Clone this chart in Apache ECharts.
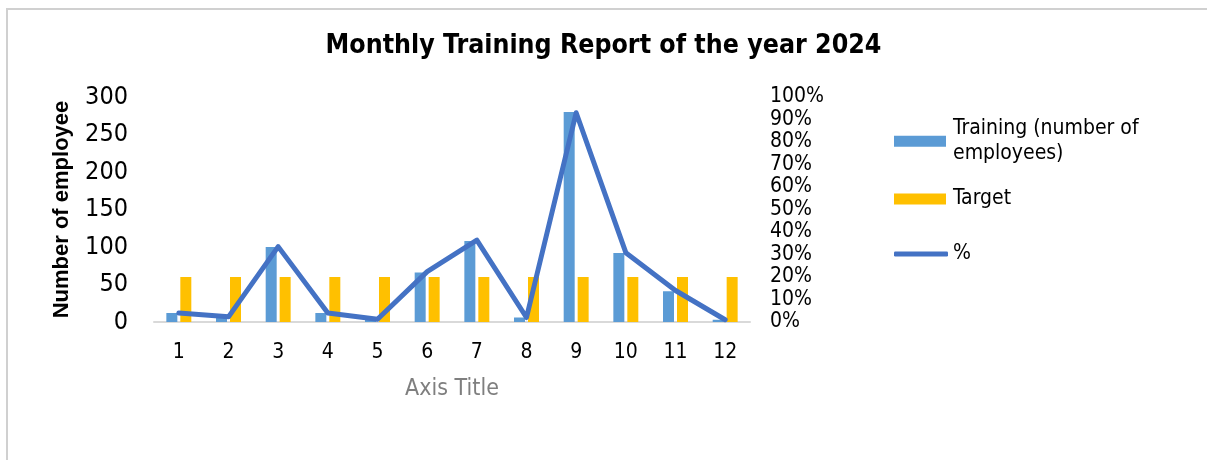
<!DOCTYPE html>
<html>
<head>
<meta charset="utf-8">
<script src="https://cdn.jsdelivr.net/npm/echarts@6/dist/echarts.min.js"></script>
<style>
    html, body {
        margin: 0;
        padding: 0;
        background: #fff;
    }
    #frame {
        position: absolute;
        left: 6px;
        top: 8px;
        width: 1201px;
        height: 452px;
        border-left: 2px solid #d0d0d0;
        border-top: 2px solid #d0d0d0;
    }
    #chart {
        position: absolute;
        left: 0;
        top: 0;
        width: 1207px;
        height: 460px;
    }
</style>
</head>
<body>
<div id="frame"></div>
<div id="chart"></div>
<script>
const months = ["1", "2", "3", "4", "5", "6", "7", "8", "9", "10", "11", "12"]
const training = [12, 6, 100, 12, 3, 66, 108, 6, 280, 92, 41, 3]
const target = [60, 60, 60, 60, 60, 60, 60, 60, 60, 60, 60, 60]
const percent = [4, 2.3, 33.5, 4, 1.2, 22.4, 36.4, 2, 93, 30.8, 14, 1]

const narrow = "'DejaVu Sans Condensed', 'Liberation Sans', sans-serif"

var myChart = echarts.init(document.getElementById("chart"))

var option = {
    animation: false,
    title: {
        text: "Monthly Training Report of the year 2024",
        left: "center",
        top: 28,
        textStyle: {
            fontFamily: narrow,
            fontWeight: "bold",
            fontSize: 26.5,
            color: "#000",
        },
    },
    grid: {
        left: 154,
        right: 457,
        top: 97,
        bottom: 138,
    },
    legend: [
        {
            data: ["Training (number of employees)"],
            left: 894,
            top: 103,
            padding: 0,
            icon: "rect",
            itemWidth: 52,
            itemHeight: 11,
            itemGap: 0,
            formatter: function () {
                return "Training (number of\nemployees)"
            },
            textStyle: {
                fontFamily: narrow,
                fontSize: 21,
                color: "#000",
                lineHeight: 25.5,
                padding: [25.5, 0, 0, 2],
            },
        },
        {
            data: ["Target"],
            left: 894,
            top: 187,
            padding: 0,
            icon: "rect",
            itemWidth: 52,
            itemHeight: 11,
            textStyle: {
                fontFamily: narrow,
                fontSize: 21,
                color: "#000",
                lineHeight: 24,
                padding: [0, 0, 0, 2],
            },
        },
        {
            data: ["%"],
            left: 894,
            top: 242,
            padding: 0,
            icon: "roundRect",
            itemWidth: 54,
            itemHeight: 5,
            textStyle: {
                fontFamily: narrow,
                fontSize: 21,
                color: "#000",
                lineHeight: 24,
                padding: [0, 0, 0, 0],
            },
        },
    ],
    xAxis: {
        type: "category",
        data: months,
        name: "Axis Title",
        nameLocation: "middle",
        nameGap: 56,
        nameTextStyle: {
            fontFamily: narrow,
            fontSize: 23,
            color: "#7f7f7f",
        },
        axisTick: { show: false },
        axisLine: {
            lineStyle: { color: "#d9d9d9", width: 2 },
        },
        axisLabel: {
            margin: 20,
            fontFamily: narrow,
            fontSize: 21,
            color: "#000",
        },
    },
    yAxis: [
        {
            type: "value",
            min: 0,
            max: 300,
            interval: 50,
            name: "Number of employee",
            nameLocation: "middle",
            nameRotate: 90,
            nameGap: 81,
            nameTextStyle: {
                fontFamily: "'Liberation Sans', sans-serif",
                fontWeight: "bold",
                fontSize: 22,
                color: "#000",
            },
            splitLine: { show: false },
            axisLine: { show: false },
            axisTick: { show: false },
            axisLabel: {
                margin: 26,
                fontFamily: narrow,
                fontSize: 25,
                color: "#000",
            },
        },
        {
            type: "value",
            min: 0,
            max: 100,
            interval: 10,
            position: "right",
            splitLine: { show: false },
            axisLine: { show: false },
            axisTick: { show: false },
            axisLabel: {
                margin: 20,
                fontFamily: narrow,
                fontSize: 21,
                color: "#000",
                formatter: "{value}%",
            },
        },
    ],
    series: [
        {
            name: "Training (number of employees)",
            type: "bar",
            data: training,
            barWidth: 11,
            barGap: "27%",
            itemStyle: { color: "#5b9bd5" },
        },
        {
            name: "Target",
            type: "bar",
            data: target,
            barWidth: 11,
            itemStyle: { color: "#ffc000" },
        },
        {
            name: "%",
            type: "line",
            yAxisIndex: 1,
            data: percent,
            showSymbol: false,
            symbol: "none",
            z: 5,
            lineStyle: { color: "#4472c4", width: 5, join: "round", cap: "round" },
            itemStyle: { color: "#4472c4" },
        },
    ],
}

myChart.setOption(option)
</script>
</body>
</html>
